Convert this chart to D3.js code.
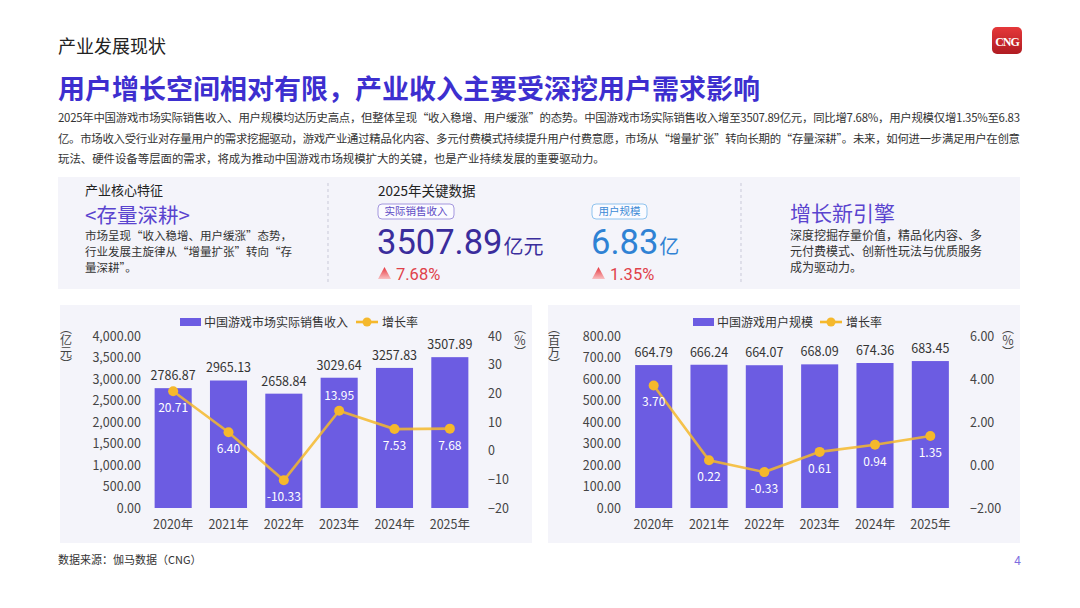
<!DOCTYPE html>
<html lang="zh">
<head>
<meta charset="UTF-8">
<title>产业发展现状</title>
<script src="https://d3js.org/d3.v7.min.js"></script>
<style>
  body { margin: 0; background: #fff; }
  svg text { font-family: "Noto Sans CJK SC", "Noto Sans", sans-serif; }
</style>
</head>
<body>
<div id="page"></div>
<script>
// ---- data ----
var years = ["2020年", "2021年", "2022年", "2023年", "2024年", "2025年"];
var revenue = [2786.87, 2965.13, 2658.84, 3029.64, 3257.83, 3507.89];
var revenueGrowth = [20.71, 6.40, -10.33, 13.95, 7.53, 7.68];
var users = [664.79, 666.24, 664.07, 668.09, 674.36, 683.45];
var userGrowth = [3.70, 0.22, -0.33, 0.61, 0.94, 1.35];

var revenueTicks = [0, 500, 1000, 1500, 2000, 2500, 3000, 3500, 4000];
var revenueGrowthTicks = [-20, -10, 0, 10, 20, 30, 40];
var userTicks = [0, 100, 200, 300, 400, 500, 600, 700, 800];
var userGrowthTicks = [-2, 0, 2, 4, 6];

var paragraph = [
  "2025年中国游戏市场实际销售收入、用户规模均达历史高点，但整体呈现“收入稳增、用户缓涨”的态势。中国游戏市场实际销售收入增至3507.89亿元，同比增7.68%，用户规模仅增1.35%至6.83",
  "亿。市场收入受行业对存量用户的需求挖掘驱动，游戏产业通过精品化内容、多元付费模式持续提升用户付费意愿，市场从“增量扩张”转向长期的“存量深耕”。未来，如何进一步满足用户在创意",
  "玩法、硬件设备等层面的需求，将成为推动中国游戏市场规模扩大的关键，也是产业持续发展的重要驱动力。"
];
var coreText = ["市场呈现“收入稳增、用户缓涨”态势，", "行业发展主旋律从“增量扩张”转向“存", "量深耕”。"];
var engineText = ["深度挖掘存量价值，精品化内容、多", "元付费模式、创新性玩法与优质服务", "成为驱动力。"];

// ---- page ----
var W = 1080, H = 608;
var purple = "#3d2fcf", barColor = "#6c5ce2", gold = "#f5b82c", panelBg = "#f4f4fa";

var svg = d3.select("#page").append("svg")
  .attr("width", W).attr("height", H);

svg.append("rect").attr("width", W).attr("height", H).attr("fill", "#fff");

var defs = svg.append("defs");
var lg = defs.append("linearGradient").attr("id", "logoGrad")
  .attr("x1", 0).attr("y1", 0).attr("x2", 0).attr("y2", 1);
lg.append("stop").attr("offset", "0%").attr("stop-color", "#e5383a");
lg.append("stop").attr("offset", "100%").attr("stop-color", "#b01c22");
var tg = defs.append("linearGradient").attr("id", "triGrad")
  .attr("x1", 0).attr("y1", 0).attr("x2", 0).attr("y2", 1);
tg.append("stop").attr("offset", "0%").attr("stop-color", "#e6343c");
tg.append("stop").attr("offset", "100%").attr("stop-color", "#f8c0c2");

// header
svg.append("text").attr("x", 58).attr("y", 53)
  .attr("font-size", 18).attr("fill", "#222").text("产业发展现状");

var logo = svg.append("g").attr("transform", "translate(992,27)");
logo.append("rect").attr("width", 30).attr("height", 27).attr("rx", 5).attr("fill", "url(#logoGrad)");
logo.append("text").attr("x", 15).attr("y", 18.5).attr("text-anchor", "middle")
  .attr("font-size", 12).attr("font-weight", 700).attr("fill", "#fff")
  .attr("letter-spacing", -1)
  .style("font-family", "'Liberation Serif', serif").text("CNG");

svg.append("text").attr("x", 58).attr("y", 99)
  .attr("font-size", 27).attr("font-weight", 700).attr("fill", purple)
  .text("用户增长空间相对有限，产业收入主要受深挖用户需求影响");

svg.selectAll(".para").data(paragraph).enter().append("text")
  .attr("class", "para")
  .attr("x", 58).attr("y", function(d, i) { return 122 + i * 20.5; })
  .attr("font-size", 11.4).attr("fill", "#333")
  .each(function(d, i) {
    if (i < paragraph.length - 1) d3.select(this).attr("textLength", 962).attr("lengthAdjust", "spacing");
  })
  .text(function(d) { return d; });

// ---- key data panel ----
svg.append("rect").attr("x", 58).attr("y", 177).attr("width", 962).attr("height", 112).attr("fill", panelBg);
[328, 741].forEach(function(x) {
  svg.append("line").attr("x1", x).attr("x2", x).attr("y1", 183).attr("y2", 284)
    .attr("stroke", "#c9c9d8").attr("stroke-dasharray", "3,3");
});

svg.append("text").attr("x", 85).attr("y", 195).attr("font-size", 13).attr("fill", "#222").text("产业核心特征");
svg.append("text").attr("x", 85).attr("y", 222.5).attr("font-size", 20.5).attr("fill", "#5a44cf").text("<存量深耕>");
svg.selectAll(".core").data(coreText).enter().append("text")
  .attr("x", 85).attr("y", function(d, i) { return 240 + i * 16; })
  .attr("font-size", 11.5).attr("fill", "#333").text(function(d) { return d; });

svg.append("text").attr("x", 378).attr("y", 196).attr("font-size", 13.5).attr("fill", "#222").text("2025年关键数据");

function badge(x, w, label, stroke, color) {
  var g = svg.append("g").attr("transform", "translate(" + x + ",204)");
  g.append("rect").attr("width", w).attr("height", 15).attr("rx", 4)
    .attr("fill", "#fbfbff").attr("stroke", stroke).attr("stroke-width", 1);
  g.append("text").attr("x", w / 2).attr("y", 11).attr("text-anchor", "middle")
    .attr("font-size", 10.5).attr("fill", color).text(label);
}
badge(378, 76, "实际销售收入", "#a497de", "#5c49c4");
badge(592, 55, "用户规模", "#8fc3ee", "#3b8ad6");

function bigNumber(x, value, unit, color) {
  var t = svg.append("text").attr("x", x).attr("y", 254).attr("fill", color);
  t.append("tspan").attr("font-size", 34.5).style("font-family", "Roboto, 'Noto Sans', sans-serif").text(value);
  t.append("tspan").attr("font-size", 20).attr("dx", 1).text(unit);
}
bigNumber(377, "3507.89", "亿元", "#3a2d9c");
bigNumber(591, "6.83", "亿", "#2f82d4");

function rise(x, label) {
  svg.append("path").attr("d", "M" + x + ",279 L" + (x + 6.5) + ",267 L" + (x + 13) + ",279 Z")
    .attr("fill", "url(#triGrad)");
  svg.append("text").attr("x", x + 18).attr("y", 279.5).attr("font-size", 16.5)
    .attr("fill", "#e0414a").style("font-family", "Roboto, 'Noto Sans', sans-serif").text(label);
}
rise(378, "7.68%");
rise(592, "1.35%");

svg.append("text").attr("x", 790).attr("y", 221).attr("font-size", 21).attr("fill", "#5a44cf").text("增长新引擎");
svg.selectAll(".engine").data(engineText).enter().append("text")
  .attr("x", 790).attr("y", function(d, i) { return 240 + i * 16; })
  .attr("font-size", 12).attr("fill", "#333").text(function(d) { return d; });

// vertical unit label (one text, vertical writing mode)
function verticalLabel(g, cx, label) {
  g.append("text").attr("x", cx).attr("y", 322)
    .attr("font-size", 12).attr("fill", "#444")
    .style("writing-mode", "vertical-rl")
    .text(label);
}

// ---- charts ----
function drawChart(cfg) {
  var g = svg.append("g");
  g.append("rect").attr("x", cfg.panel[0]).attr("y", 305).attr("width", cfg.panel[1] - cfg.panel[0])
    .attr("height", 238).attr("fill", panelBg);

  var x = d3.scaleBand().domain(years).range(cfg.xRange).paddingInner(0.33).paddingOuter(0.165);
  var y = d3.scaleLinear().domain([cfg.ticks[0], cfg.ticks[cfg.ticks.length - 1]]).range([508, 336]);
  var y2 = d3.scaleLinear().domain([cfg.pctTicks[0], cfg.pctTicks[cfg.pctTicks.length - 1]]).range([508, 336]);

  var axL = g.append("g").attr("transform", "translate(" + cfg.leftAxisX + ",0)")
    .call(d3.axisLeft(y).tickValues(cfg.ticks).tickFormat(cfg.fmt).tickSize(0).tickPadding(0));
  var axR = g.append("g").attr("transform", "translate(" + cfg.rightAxisX + ",0)")
    .call(d3.axisRight(y2).tickValues(cfg.pctTicks).tickFormat(cfg.pctFmt).tickSize(0).tickPadding(0));
  var axB = g.append("g").attr("transform", "translate(0,518)")
    .call(d3.axisBottom(x).tickSize(0).tickPadding(0));
  [axL, axR, axB].forEach(function(a) {
    a.select(".domain").remove();
    a.selectAll("text").attr("font-size", 12.5).attr("fill", "#444")
      .style("font-family", "'Noto Sans CJK SC', 'Noto Sans', sans-serif");
  });
  axB.selectAll("text").attr("dy", "0.9em");

  g.selectAll(".bar").data(cfg.values).enter().append("rect")
    .attr("x", function(d, i) { return x(years[i]); })
    .attr("y", function(d) { return y(d); })
    .attr("width", x.bandwidth())
    .attr("height", function(d) { return y(0) - y(d); })
    .attr("fill", barColor);

  g.selectAll(".barlab").data(cfg.values).enter().append("text")
    .attr("x", function(d, i) { return x(years[i]) + x.bandwidth() / 2; })
    .attr("y", function(d) { return y(d) - 8; })
    .attr("text-anchor", "middle").attr("font-size", 12.5).attr("fill", "#333")
    .text(function(d) { return d.toFixed(2); });

  var line = d3.line()
    .x(function(d, i) { return x(years[i]) + x.bandwidth() / 2; })
    .y(function(d) { return y2(d); });
  g.append("path").datum(cfg.growth).attr("d", line)
    .attr("fill", "none").attr("stroke", gold).attr("stroke-width", 2.6).attr("stroke-opacity", 0.85);
  g.selectAll(".pt").data(cfg.growth).enter().append("circle")
    .attr("cx", function(d, i) { return x(years[i]) + x.bandwidth() / 2; })
    .attr("cy", function(d) { return y2(d); })
    .attr("r", 5).attr("fill", gold);
  g.selectAll(".ptlab").data(cfg.growth).enter().append("text")
    .attr("x", function(d, i) { return x(years[i]) + x.bandwidth() / 2; })
    .attr("y", function(d, i) { return y2(d) + (cfg.above.indexOf(i) >= 0 ? -11 : 21); })
    .attr("text-anchor", "middle").attr("font-size", 12).attr("fill", "#fff")
    .text(function(d) { return d.toFixed(2); });

  // unit labels
  verticalLabel(g, cfg.panel[0] + 6, cfg.unit);
  verticalLabel(g, cfg.panel[1] - 12, "（％）");

  // legend
  var lgd = g.append("g").attr("transform", "translate(" + cfg.legendX + ",0)");
  lgd.append("rect").attr("x", 0).attr("y", 318).attr("width", 21).attr("height", 8).attr("fill", barColor);
  lgd.append("text").attr("x", 24).attr("y", 326.5).attr("font-size", 12).attr("fill", "#333").text(cfg.legend);
  lgd.append("line").attr("x1", cfg.legendGap).attr("x2", cfg.legendGap + 22).attr("y1", 322).attr("y2", 322)
    .attr("stroke", gold).attr("stroke-width", 2.6);
  lgd.append("circle").attr("cx", cfg.legendGap + 11).attr("cy", 322).attr("r", 4.5).attr("fill", gold);
  lgd.append("text").attr("x", cfg.legendGap + 26).attr("y", 326.5).attr("font-size", 12).attr("fill", "#333").text("增长率");
}

drawChart({
  panel: [60, 532], xRange: [145.5, 477.5], leftAxisX: 141, rightAxisX: 488,
  values: revenue, growth: revenueGrowth, ticks: revenueTicks, pctTicks: revenueGrowthTicks,
  fmt: d3.format(",.2f"), pctFmt: d3.format("d"), above: [3],
  unit: "（亿元）", legend: "中国游戏市场实际销售收入", legendX: 180, legendGap: 176
});
drawChart({
  panel: [548, 1020], xRange: [626, 958], leftAxisX: 621, rightAxisX: 970,
  values: users, growth: userGrowth, ticks: userTicks, pctTicks: userGrowthTicks,
  fmt: d3.format(".2f"), pctFmt: d3.format(".2f"), above: [],
  unit: "（百万）", legend: "中国游戏用户规模", legendX: 693, legendGap: 127
});

// footer
svg.append("text").attr("x", 58).attr("y", 564).attr("font-size", 11).attr("fill", "#333").text("数据来源：伽马数据（CNG）");
svg.append("text").attr("x", 1021).attr("y", 565).attr("text-anchor", "end")
  .attr("font-size", 12).attr("fill", "#7d6de0").text("4");
</script>
</body>
</html>
